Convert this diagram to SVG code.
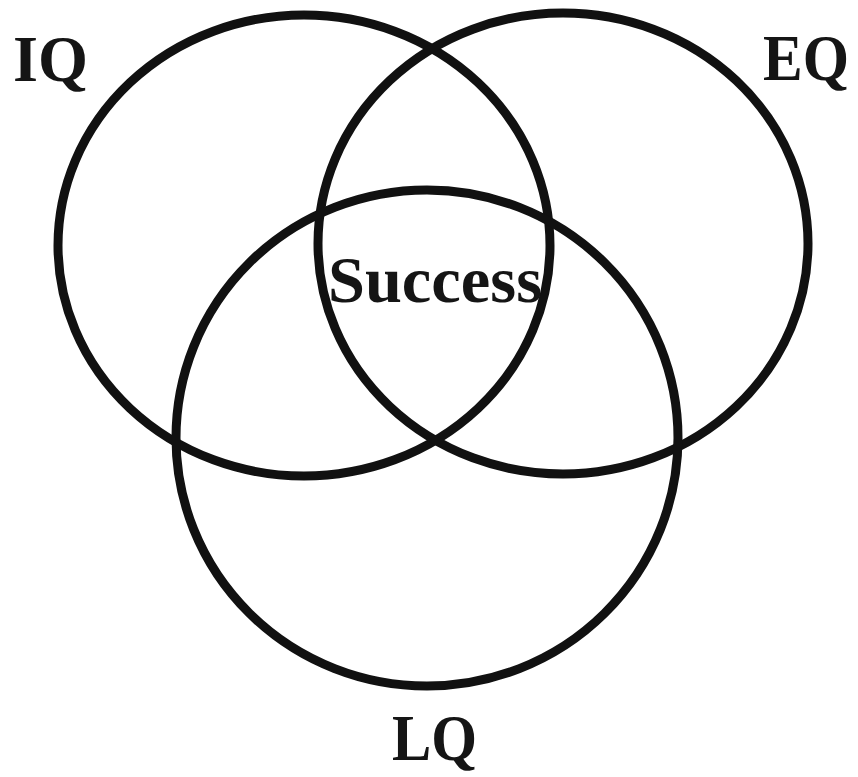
<svg xmlns="http://www.w3.org/2000/svg" width="858" height="777" viewBox="0 0 858 777">
<style>
.c{fill:none;stroke:#111;stroke-width:9}
.t{font-family:"Liberation Serif","Times New Roman",serif;font-weight:bold;font-size:66px;fill:#151515}
</style>
<rect width="858" height="777" fill="#fff"/>
<g id="connectors"></g>
<g id="IQ"><ellipse class="c" cx="304" cy="245.5" rx="246" ry="230.5"/><text class="t" x="13" y="81" textLength="75" lengthAdjust="spacingAndGlyphs">IQ</text></g>
<g id="EQ"><ellipse class="c" cx="563" cy="243.5" rx="245" ry="230.5"/><text class="t" x="763" y="80" textLength="86" lengthAdjust="spacingAndGlyphs">EQ</text></g>
<g id="LQ"><ellipse class="c" cx="427" cy="438" rx="251" ry="248"/><text class="t" x="392" y="760" textLength="85" lengthAdjust="spacingAndGlyphs">LQ</text></g>
<g id="Success"><text class="t" x="328" y="302" textLength="214" lengthAdjust="spacingAndGlyphs">Success</text></g>
</svg>
